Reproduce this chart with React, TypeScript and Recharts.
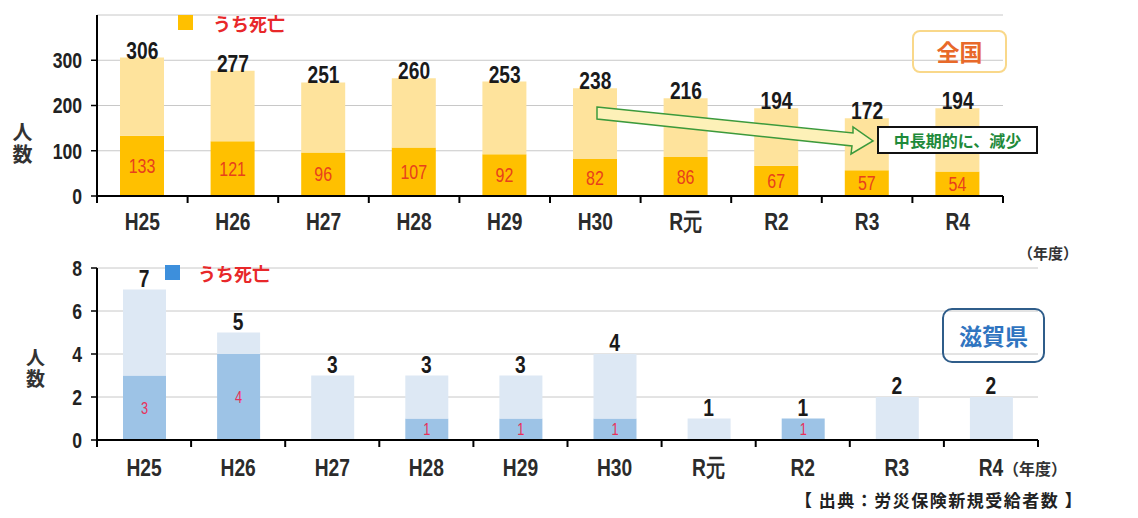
import React from 'react';
import { ComposedChart, Bar, Line, XAxis, YAxis, CartesianGrid, LabelList } from 'recharts';

const categories = ['H25', 'H26', 'H27', 'H28', 'H29', 'H30', 'R元', 'R2', 'R3', 'R4'];

// 全国
const nationalTotal = [306, 277, 251, 260, 253, 238, 216, 194, 172, 194];
const nationalDeaths = [133, 121, 96, 107, 92, 82, 86, 67, 57, 54];
const nationalTicks = [0, 100, 200, 300];

// 滋賀県
const shigaTotal = [7, 5, 3, 3, 3, 4, 1, 1, 2, 2];
const shigaDeaths = [3, 4, 0, 1, 1, 1, 0, 1, 0, 0];
const shigaTicks = [0, 2, 4, 6, 8];

const nationalData = categories.map((name, i) => ({
  name,
  total: nationalTotal[i],
  death: nationalDeaths[i],
  rest: nationalTotal[i] - nationalDeaths[i],
}));
const shigaData = categories.map((name, i) => ({
  name,
  total: shigaTotal[i],
  death: shigaDeaths[i],
  rest: shigaTotal[i] - shigaDeaths[i],
}));

const SANS = '"Liberation Sans", Arial, sans-serif';
const JP = '"Noto Sans CJK JP", "Noto Sans", sans-serif';

const W = 1138;
const PLOT_LEFT = 97;
const TOP_RIGHT = 1003;
const BOTTOM_RIGHT = 1038;

// condensed text (the original uses a narrow face)
function NarrowText(p: {
  x: number;
  y: number;
  size: number;
  fill: string;
  bold?: boolean;
  anchor?: 'start' | 'middle' | 'end';
  dy?: string;
  children: React.ReactNode;
}) {
  return (
    <text
      transform={`translate(${p.x},${p.y}) scale(0.8,1)`}
      textAnchor={p.anchor || 'middle'}
      dy={p.dy}
      fill={p.fill}
      fontFamily={SANS}
      fontWeight={p.bold ? 700 : 400}
      fontSize={p.size}
    >
      {p.children}
    </text>
  );
}

function makeXTick(band: number, labelOffset: number) {
  return (props: any) => {
    const { x, y, payload, index } = props;
    return (
      <g>
        <NarrowText x={x} y={y + labelOffset} size={24} fill="#2b2b2b" bold>
          {payload.value}
        </NarrowText>
        <line x1={x + band / 2} x2={x + band / 2} y1={y} y2={y + 7} stroke="#000" strokeWidth={2} />
        {index === 0 && <line x1={x - band / 2} x2={x - band / 2} y1={y} y2={y + 7} stroke="#000" strokeWidth={2} />}
      </g>
    );
  };
}

const YTick = (props: any) => {
  const { x, y, payload } = props;
  return (
    <NarrowText x={x} y={y} dy="0.36em" anchor="end" size={22} fill="#222" bold>
      {payload.value}
    </NarrowText>
  );
};

function totalLabel(dy: number) {
  return (props: any) => {
    const { x, y, value } = props;
    return (
      <NarrowText x={x} y={y + dy} size={24} fill="#1a1a1a" bold>
        {value}
      </NarrowText>
    );
  };
}

function deathLabel(color: string, size: number) {
  return (props: any) => {
    const { x, y, width, height, value } = props;
    if (!value) return null;
    return (
      <NarrowText x={x + width / 2} y={y + height / 2} dy="0.36em" size={size} fill={color}>
        {value}
      </NarrowText>
    );
  };
}

const abs = (left: number, top: number): React.CSSProperties => ({ position: 'absolute', left, top });

const yTitle = (size: number): React.CSSProperties => ({
  color: '#333',
  fontFamily: JP,
  fontWeight: 700,
  fontSize: size,
  writingMode: 'vertical-rl',
  letterSpacing: 2,
  lineHeight: 1,
});

export default function App() {
  const topBand = (TOP_RIGHT - PLOT_LEFT) / categories.length;
  const bottomBand = (BOTTOM_RIGHT - PLOT_LEFT) / categories.length;

  return (
    <div style={{ position: 'absolute', left: 0, top: 0, width: W, height: 518, background: '#fff', overflow: 'hidden' }}>
      {/* 全国 */}
      <div style={abs(0, 0)}>
        <ComposedChart width={W} height={240} data={nationalData} margin={{ top: 15, right: W - TOP_RIGHT, bottom: 0, left: 0 }}>
          <CartesianGrid horizontal vertical={false} stroke="#c8c8c8" />
          <XAxis
            dataKey="name"
            height={44}
            axisLine={{ stroke: '#000', strokeWidth: 2 }}
            tickLine={false}
            tickSize={0}
            tickMargin={0}
            interval={0}
            tick={makeXTick(topBand, 34)}
          />
          <YAxis
            width={PLOT_LEFT}
            domain={[0, 400]}
            ticks={nationalTicks}
            axisLine={{ stroke: '#000', strokeWidth: 2 }}
            tickLine={{ stroke: '#000', strokeWidth: 1.5 }}
            tickSize={6}
            tickMargin={9}
            tick={YTick}
          />
          <Bar dataKey="death" stackId="a" fill="#ffc000" barSize={44} isAnimationActive={false}>
            <LabelList dataKey="death" content={deathLabel('#e8401c', 20)} />
          </Bar>
          <Bar dataKey="rest" stackId="a" fill="#fee39c" barSize={44} isAnimationActive={false} />
          <Line dataKey="total" stroke="none" dot={false} activeDot={false} isAnimationActive={false}>
            <LabelList dataKey="total" content={totalLabel(1)} />
          </Line>
        </ComposedChart>
      </div>

      {/* 滋賀県 */}
      <div style={abs(0, 250)}>
        <ComposedChart width={W} height={240} data={shigaData} margin={{ top: 18, right: W - BOTTOM_RIGHT, bottom: 0, left: 0 }}>
          <CartesianGrid horizontal vertical={false} stroke="#c8c8c8" />
          <XAxis
            dataKey="name"
            height={50}
            axisLine={{ stroke: '#000', strokeWidth: 2 }}
            tickLine={false}
            tickSize={0}
            tickMargin={0}
            interval={0}
            tick={makeXTick(bottomBand, 36)}
          />
          <YAxis
            width={PLOT_LEFT}
            domain={[0, 8]}
            ticks={shigaTicks}
            axisLine={{ stroke: '#000', strokeWidth: 2 }}
            tickLine={{ stroke: '#000', strokeWidth: 1.5 }}
            tickSize={6}
            tickMargin={9}
            tick={YTick}
          />
          <Bar dataKey="death" stackId="a" fill="#9dc3e6" barSize={43} isAnimationActive={false}>
            <LabelList dataKey="death" content={deathLabel('#e8305a', 16)} />
          </Bar>
          <Bar dataKey="rest" stackId="a" fill="#dde8f4" barSize={43} isAnimationActive={false} />
          <Line dataKey="total" stroke="none" dot={false} activeDot={false} isAnimationActive={false}>
            <LabelList dataKey="total" content={totalLabel(-3)} />
          </Line>
        </ComposedChart>
      </div>

      {/* annotations */}
      <svg width={W} height={518} style={{ position: 'absolute', left: 0, top: 0, pointerEvents: 'none' }}>
        <polygon
          points="597,107 853,133 853,127 873,141 851,154 852,146 597,119"
          fill="#fdf1b8"
          stroke="#3c9a3c"
          strokeWidth={1.5}
        />
      </svg>

      <div
        style={{
          ...abs(877, 126),
          width: 157,
          height: 24,
          border: '2px solid #111',
          background: '#fff',
          color: '#1e8a3a',
          fontFamily: JP,
          fontWeight: 700,
          fontSize: 16,
          lineHeight: '24px',
          textAlign: 'center',
        }}
      >
        中長期的に、減少
      </div>

      <div
        style={{
          ...abs(912, 30),
          width: 91,
          height: 39,
          border: '2px solid #f9d88a',
          borderRadius: 8,
          color: '#e8692a',
          fontFamily: JP,
          fontWeight: 700,
          fontSize: 23,
          lineHeight: '39px',
          textAlign: 'center',
        }}
      >
        全国
      </div>

      <div
        style={{
          ...abs(942, 308),
          width: 99,
          height: 51,
          border: '2px solid #2f5d8a',
          borderRadius: 10,
          color: '#2f74c0',
          fontFamily: JP,
          fontWeight: 700,
          fontSize: 23,
          lineHeight: '51px',
          textAlign: 'center',
        }}
      >
        滋賀県
      </div>

      {/* legends */}
      <div style={{ ...abs(178, 15), width: 15, height: 15, background: '#ffc000' }} />
      <div style={{ ...abs(213, 9), color: '#e8282a', fontFamily: JP, fontWeight: 700, fontSize: 18, lineHeight: '28px' }}>うち死亡</div>
      <div style={{ ...abs(165, 265), width: 15, height: 15, background: '#3d8fdc' }} />
      <div style={{ ...abs(198, 259), color: '#e8282a', fontFamily: JP, fontWeight: 700, fontSize: 18, lineHeight: '28px' }}>うち死亡</div>

      {/* y-axis titles */}
      <div style={{ ...abs(12, 122), ...yTitle(20) }}>人数</div>
      <div style={{ ...abs(26, 348), ...yTitle(19) }}>人数</div>

      {/* unit labels */}
      <div style={{ ...abs(1018, 241), color: '#333', fontFamily: JP, fontWeight: 700, fontSize: 15, lineHeight: '24px' }}>（年度）</div>
      <div style={{ ...abs(1003, 456), color: '#333', fontFamily: JP, fontWeight: 700, fontSize: 16, lineHeight: '24px' }}>（年度）</div>

      <div style={{ ...abs(795, 487), color: '#222', fontFamily: JP, fontWeight: 700, fontSize: 17, letterSpacing: 1.5, lineHeight: '26px', whiteSpace: 'nowrap' }}>
        【 出典：労災保険新規受給者数 】
      </div>
    </div>
  );
}
